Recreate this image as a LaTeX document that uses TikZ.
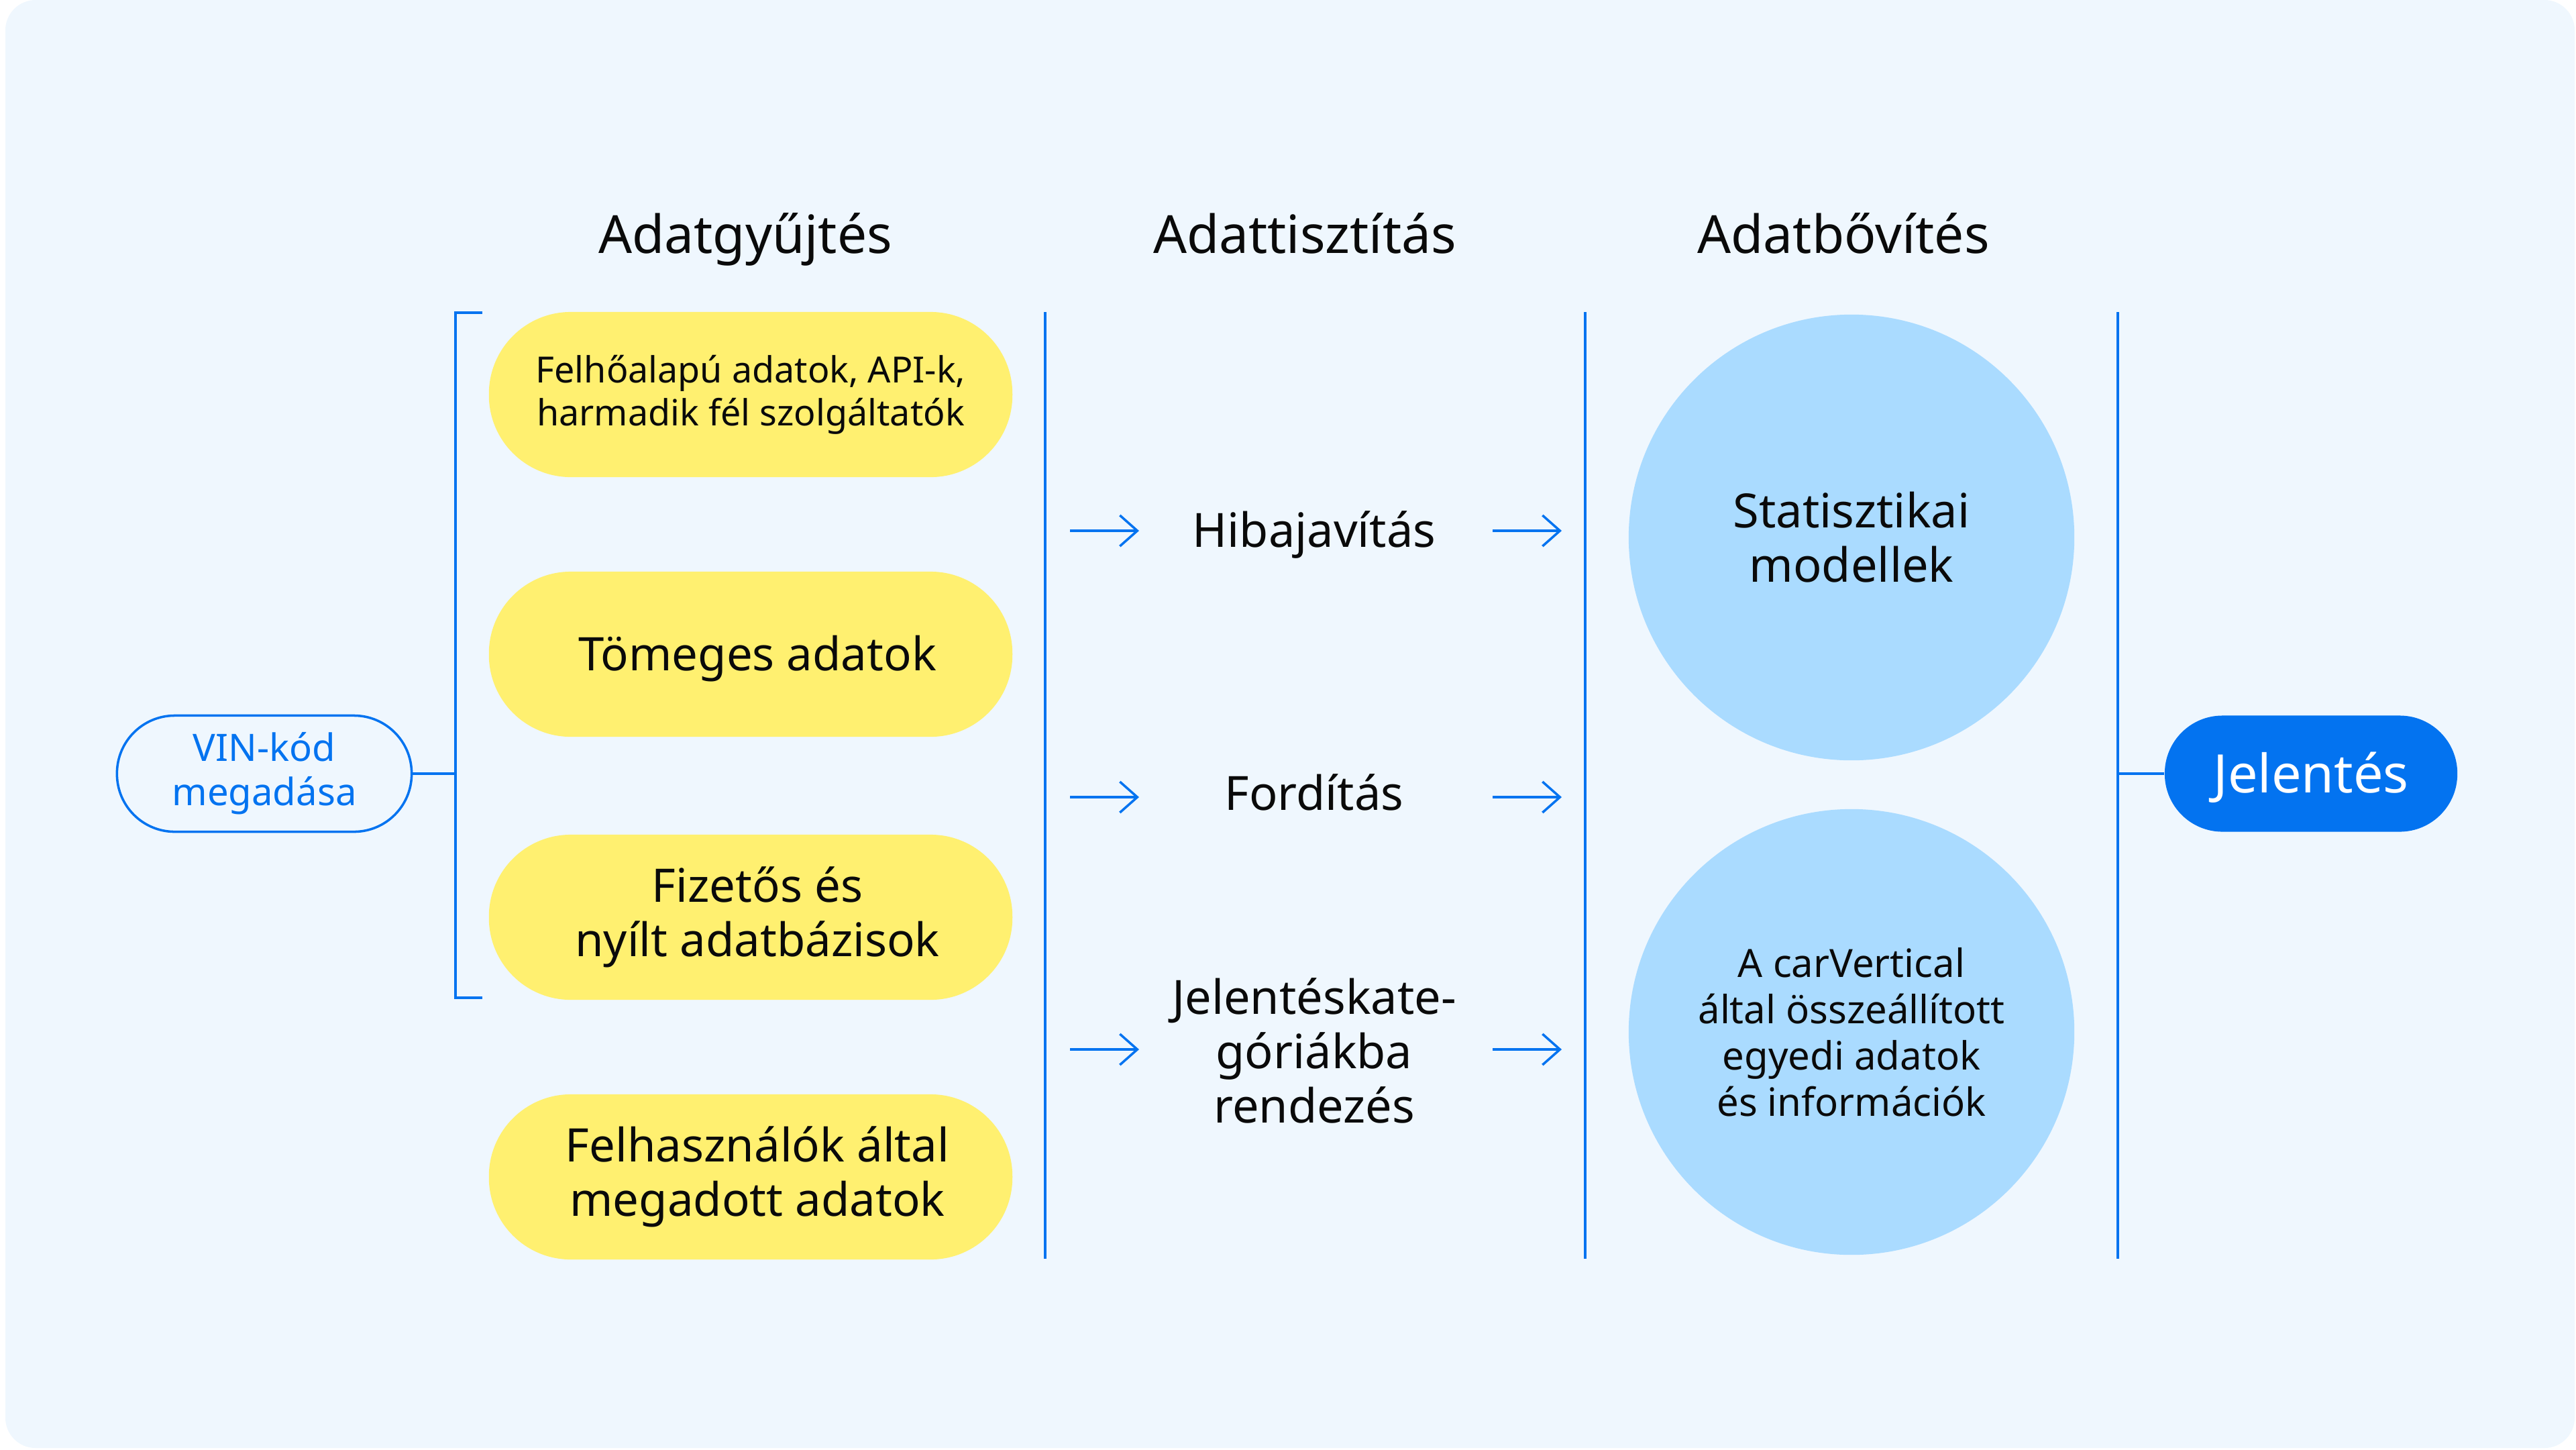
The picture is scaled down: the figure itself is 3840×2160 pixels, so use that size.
\documentclass[tikz,border=0pt]{standalone}
\usepackage{fontspec}
\setmainfont{Noto Sans}
\usetikzlibrary{arrows.meta}
\definecolor{bgc}{RGB}{239,247,254}
\definecolor{yellowc}{RGB}{255,240,112}
\definecolor{circc}{RGB}{170,219,255}
\definecolor{bluec}{RGB}{3,115,240}
\definecolor{textc}{RGB}{10,10,10}
\newcommand{\rsh}{\hspace*{0.2cm}}
\begin{document}
\begin{tikzpicture}[x=0.01cm,y=-0.01cm,
  line/.style={draw=bluec,line width=1.1pt},
  arr/.style={draw=bluec,line width=1pt,-{Straight Barb[length=0.26cm,width=0.46cm,line width=1pt]}},
  pill/.style={fill=yellowc,rounded corners=1.22cm,minimum width=7.8cm,minimum height=2.46cm,
    align=center,inner sep=0pt,text=textc,font=\fontsize{19.6}{23}\selectfont},
  circ/.style={circle,fill=circc,minimum size=6.64cm,align=center,inner sep=0pt,text=textc,
    font=\fontsize{20}{23}\selectfont},
  hdr/.style={anchor=base,text=textc,inner sep=0pt,font=\fontsize{22.3}{26}\selectfont},
  mid/.style={align=center,text=textc,inner sep=0pt,font=\fontsize{20}{23}\selectfont},
  vinbox/.style={draw=bluec,line width=1pt,fill=bgc,rounded corners=0.86cm,minimum width=4.39cm,
    minimum height=1.73cm,align=center,inner sep=0pt,text=bluec,font=\fontsize{16}{18.8}\selectfont},
  repbox/.style={fill=bluec,rounded corners=0.86cm,minimum width=4.36cm,minimum height=1.73cm,
    inner sep=0pt,text=white,text height=16pt,text depth=0pt,font=\fontsize{22.5}{26}\selectfont}
]
\useasboundingbox (0,0) rectangle (3840,2160);
\fill[bgc,rounded corners=0.45cm] (8,0) rectangle (3838,2158);

% headers
\node[hdr] (h1) at (1111,377) {Adatgyűjtés};
\node[hdr] (h2) at (1945,377) {Adattisztítás};
\node[hdr] (h3) at (2748,377) {Adatbővítés};

% input
\node[vinbox] (vin) at (394,1153) {VIN-kód\\megadása};

% bracket
\coordinate (bt) at (719,466);
\coordinate (btl) at (679,466);
\coordinate (bm) at (679,1153);
\coordinate (bbl) at (679,1487);
\coordinate (bb) at (719,1487);
\draw[line] (bt) -- (btl) -- (bbl) -- (bb);
\draw[line] (vin.east) -- (bm);

% sources
\node[pill,font=\fontsize{15.3}{18.2}\selectfont] (p1) at (1119,588) {Felhőalapú adatok, API-k,\\harmadik fél szolgáltatók};
\node[pill,text height=14pt,text depth=0pt] (p2) at (1119,975) {\rsh Tömeges adatok};
\node[pill] (p3) at (1119,1367) {\rsh Fizetős és\\\rsh nyílt adatbázisok};
\node[pill] (p4) at (1119,1754) {\rsh Felhasználók által\\\rsh megadott adatok};

% separators
\coordinate (s1t) at (1558,465); \coordinate (s1b) at (1558,1876);
\coordinate (s2t) at (2363,465); \coordinate (s2b) at (2363,1876);
\coordinate (s3t) at (3157,465); \coordinate (s3b) at (3157,1876);
\draw[line] (s1t) -- (s1b);
\draw[line] (s2t) -- (s2b);
\draw[line] (s3t) -- (s3b);

% cleaning
\node[mid,anchor=base] (m1) at (1959,815) {Hibajavítás};
\node[mid,anchor=base] (m2) at (1959,1207) {Fordítás};
\node[mid] (m3) at (1959,1566) {Jelentéskate-\\góriákba\\rendezés};

\coordinate (a1s) at (1595,791); \coordinate (a1e) at (1698,791);
\coordinate (a2s) at (1595,1188); \coordinate (a2e) at (1698,1188);
\coordinate (a3s) at (1595,1564); \coordinate (a3e) at (1698,1564);
\coordinate (b1s) at (2225,791); \coordinate (b1e) at (2328,791);
\coordinate (b2s) at (2225,1188); \coordinate (b2e) at (2328,1188);
\coordinate (b3s) at (2225,1564); \coordinate (b3e) at (2328,1564);
\draw[arr] (a1s) -- (a1e);
\draw[arr] (a2s) -- (a2e);
\draw[arr] (a3s) -- (a3e);
\draw[arr] (b1s) -- (b1e);
\draw[arr] (b2s) -- (b2e);
\draw[arr] (b3s) -- (b3e);

% enrichment
\node[circ] (c1) at (2760,801) {Statisztikai\\modellek};
\node[circ,font=\fontsize{16.5}{19.6}\selectfont] (c2) at (2760,1538) {A carVertical\\által összeállított\\egyedi adatok\\és információk};

% report
\node[repbox] (rep) at (3445,1153) {Jelentés};
\coordinate (rm) at (3157,1153);
\draw[line] (rm) -- (rep.west);
\end{tikzpicture}
\end{document}
